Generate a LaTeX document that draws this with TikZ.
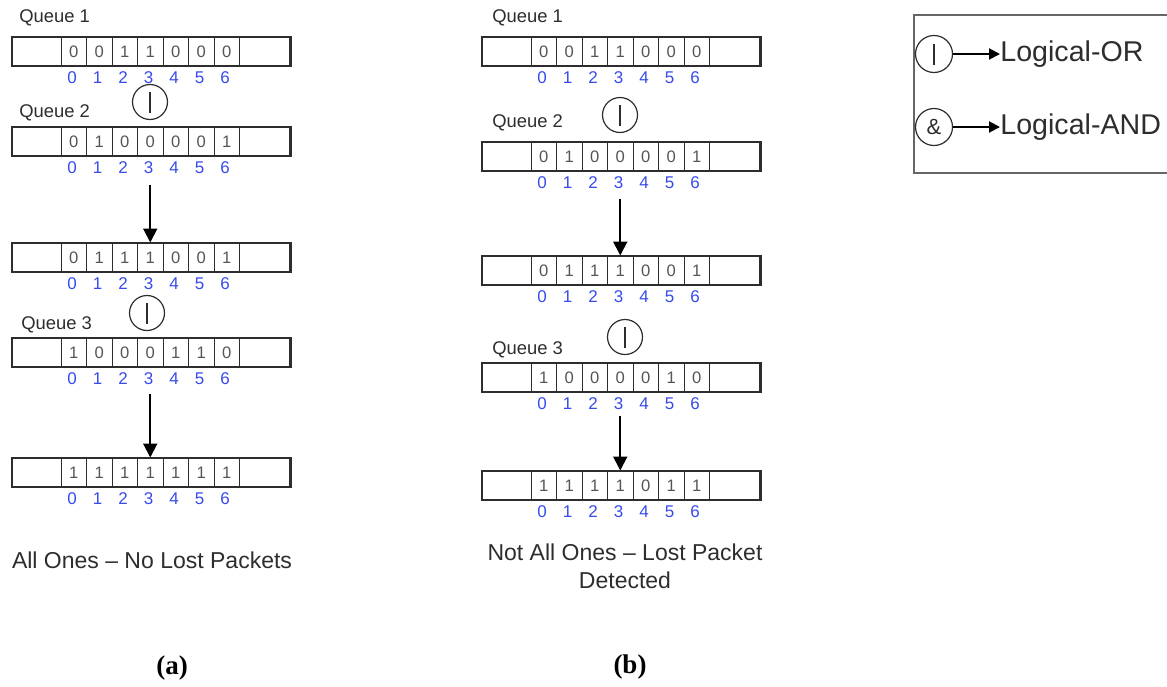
\documentclass[tikz,border=0pt]{standalone}
\usepackage{fontspec}
\setmainfont{Liberation Sans}
\newfontfamily\panelfont{Liberation Serif}
\usetikzlibrary{arrows.meta,calc}
\definecolor{idxcol}{RGB}{55,75,235}
\definecolor{inkcol}{RGB}{45,45,45}
\definecolor{bitcol}{RGB}{85,85,85}
\tikzset{
  bit cell/.style={rectangle,draw=inkcol,line width=0.5pt,minimum width=12.75pt,minimum height=14.5pt,inner sep=0pt,font=\fontsize{8.3}{9}\selectfont,text=bitcol},
  bit index/.style={inner sep=0pt,font=\fontsize{8.5}{10}\selectfont,text=idxcol},
  row frame/.style={draw=inkcol,line width=1.2pt},
  queue label/.style={anchor=west,inner sep=0pt,font=\fontsize{9.2}{11}\selectfont,text=inkcol},
  or gate/.style={circle,draw=inkcol,line width=0.6pt,minimum size=17.5pt,inner sep=0pt,text=inkcol,font=\fontsize{8}{9}\selectfont},
  legend gate/.style={or gate,minimum size=18.5pt,font=\fontsize{11}{12}\selectfont},
  flowarrow/.style={-{Triangle[length=7pt,width=7pt]},draw=black,line width=1pt},
  legarrow/.style={-{Triangle[length=5.5pt,width=5.5pt]},draw=black,line width=1pt},
  legend frame/.style={draw=black!60,line width=1pt},
  legend text/.style={anchor=west,inner sep=0pt,font=\fontsize{14.3}{17}\selectfont,text=inkcol},
  caption text/.style={font=\fontsize{11.5}{14}\selectfont,text=inkcol,align=center},
  panel label/.style={font=\panelfont\bfseries\fontsize{13.5}{16}\selectfont}
}
\newcommand{\orbar}{\rule{0.7pt}{10.5pt}}
% one queue row: name, left x, top y, bits
\newcommand{\bitrow}[4]{%
  \foreach \b [count=\k from 0] in {#4}{
    \node[bit cell] (#1-c\k) at ({#2+61.75+25.5*\k},{#3+14.5}) {\b};
    \node[bit index] (#1-i\k) at ({#2+60+25.5*\k},{#3+41}) {\k};}
  \draw[row frame] (#2,#3) rectangle ++(278.5,29);}

\begin{document}
\begin{tikzpicture}[x=0.5pt,y=-0.5pt]
\useasboundingbox (0,0) rectangle (1167,686);
% ---- (a): all ones ----
\node[queue label] (qa1) at (19,18) {Queue 1};
\bitrow{a1}{12}{37}{0,0,1,1,0,0,0}
\node[or gate] (ora1) at (150,102) {\orbar};
\node[queue label] (qa2) at (19,113) {Queue 2};
\bitrow{a2}{12}{127}{0,1,0,0,0,0,1}
\bitrow{a3}{12}{243}{0,1,1,1,0,0,1}
\draw[flowarrow] ($(a2-c3.south)+(0,28)$) -- (a3-c3.north);
\node[or gate] (ora2) at (147,313) {\orbar};
\node[queue label] (qa3) at (21,325) {Queue 3};
\bitrow{a4}{12}{338}{1,0,0,0,1,1,0}
\bitrow{a5}{12}{458}{1,1,1,1,1,1,1}
\draw[flowarrow] ($(a4-c3.south)+(0,26)$) -- (a5-c3.north);
\node[caption text] (capa) at (152,560) {All Ones -- No Lost Packets};
\node[panel label] (pa) at (172,668) {(a)};
% ---- (b): lost packet ----
\node[queue label] (qb1) at (492,18) {Queue 1};
\bitrow{b1}{482}{37}{0,0,1,1,0,0,0}
\node[or gate] (orb1) at (620,115) {\orbar};
\node[queue label] (qb2) at (492,123) {Queue 2};
\bitrow{b2}{482}{142}{0,1,0,0,0,0,1}
\bitrow{b3}{482}{256}{0,1,1,1,0,0,1}
\draw[flowarrow] ($(b2-c3.south)+(0,27)$) -- (b3-c3.north);
\node[or gate] (orb2) at (625,337) {\orbar};
\node[queue label] (qb3) at (492,350) {Queue 3};
\bitrow{b4}{482}{363}{1,0,0,0,0,1,0}
\bitrow{b5}{482}{471}{1,1,1,1,0,1,1}
\draw[flowarrow] ($(b4-c3.south)+(0,23)$) -- (b5-c3.north);
\node[caption text] (capb) at (625,566) {Not All Ones -- Lost Packet\\Detected};
\node[panel label] (pb) at (630,667) {(b)};
% ---- legend ----
\draw[legend frame] (914,15) rectangle (1172,173);
\node[legend gate] (lor) at (934,54) {\orbar};
\node[legend text] (lortxt) at (1000,54) {Logical-OR};
\draw[legarrow] (lor.east) -- (lortxt.west);
\node[legend gate] (land) at (934,127) {\&};
\node[legend text] (landtxt) at (1000,127) {Logical-AND};
\draw[legarrow] (land.east) -- (landtxt.west);
\end{tikzpicture}
\end{document}
